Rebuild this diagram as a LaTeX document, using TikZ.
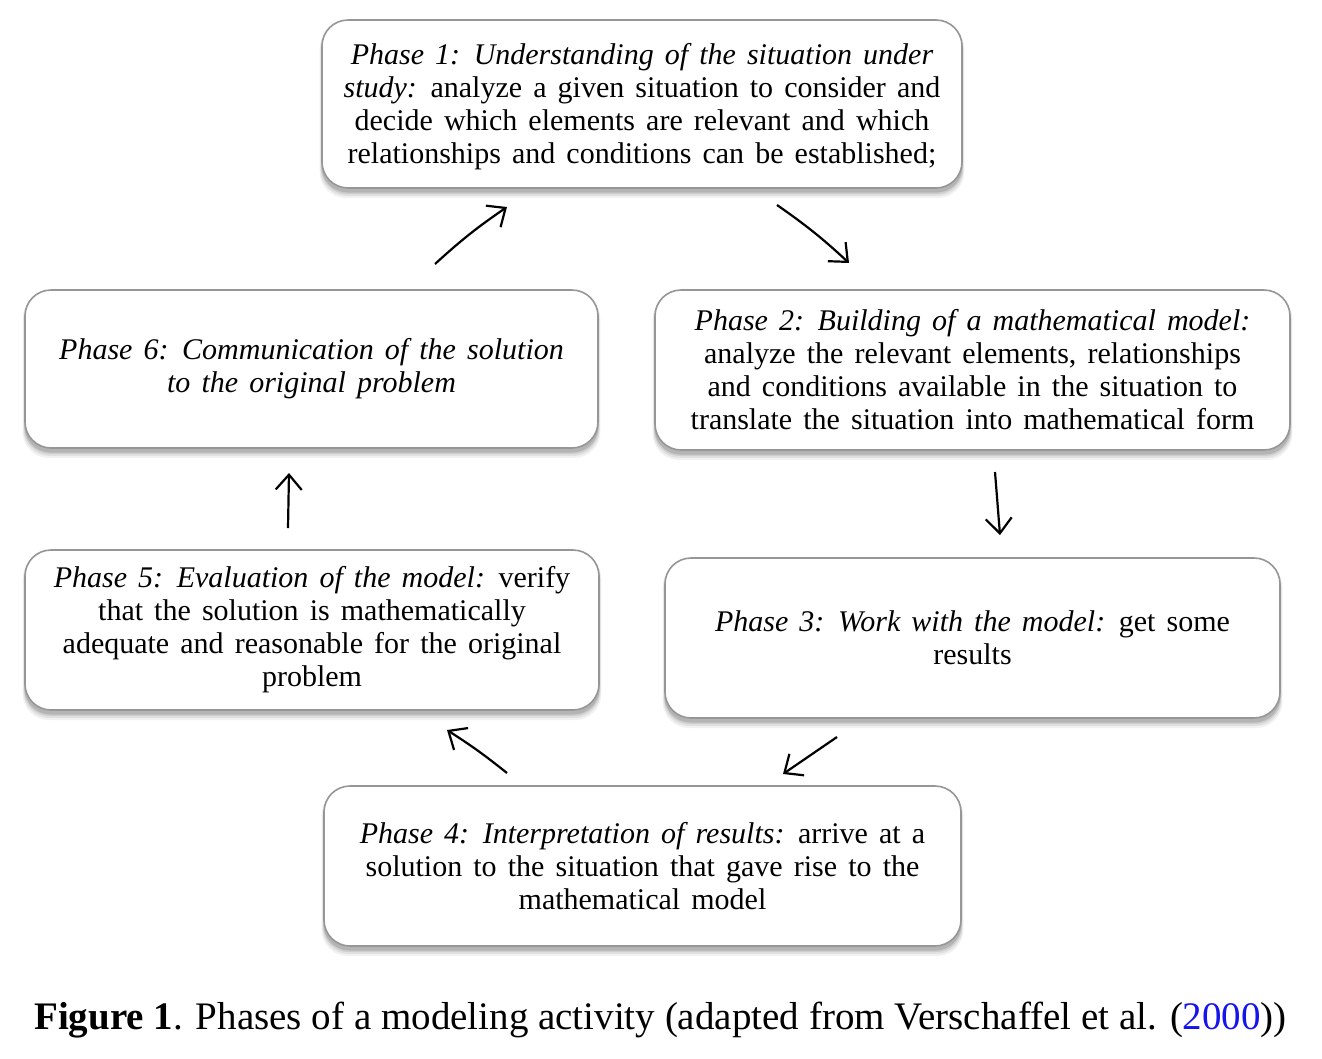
\documentclass[tikz,border=0pt]{standalone}
\usepackage{fontspec}
\setmainfont{Liberation Serif}
\usetikzlibrary{arrows.meta}
\definecolor{boxline}{RGB}{150,150,150}
\definecolor{citeblue}{RGB}{20,20,235}
\newcommand{\phasefont}{\fontsize{30}{33}\selectfont\spaceskip=0.37em plus 0.1em minus 0.05em\relax}
\tikzset{
  phasebox/.style={draw=boxline, line width=1.6pt, rounded corners=26pt, fill=white,
    align=center, inner sep=0pt, font=\phasefont},
  flowarrow/.style={line width=2.2pt, -{Straight Barb[length=15pt,width=26pt,line width=2.2pt]}},
}
\newcommand{\shadowbox}[4]{%
  \foreach \k/\o in {7/0.05,5/0.07,3/0.09,1.5/0.12}{
    \fill[black, opacity=\o, rounded corners=26pt]
      (#1-#3/2-\k/3, #2-#4/2+3) rectangle (#1+#3/2+\k/3, #2+#4/2+3+\k);
  }}
\begin{document}
\begin{tikzpicture}[x=1pt,y=-1pt]
\useasboundingbox (0,0) rectangle (1322,1058);
% shadows
\shadowbox{642}{104}{640}{168}
\shadowbox{972.5}{370}{635}{160}
\shadowbox{972.5}{638}{615}{160}
\shadowbox{642.5}{866}{637}{160}
\shadowbox{312}{630}{574}{160}
\shadowbox{311.5}{369}{573}{158}
% boxes
\node[phasebox, minimum width=640pt, minimum height=168pt] (p1) at (642,104) {};
\node[align=center, inner sep=0pt, font=\phasefont] (p1t) at (642,107)
  {\textit{Phase 1: Understanding of the situation under}\\
   \textit{study:} analyze a given situation to consider and\\
   decide which elements are relevant and which\\
   relationships and conditions can be established;};
\node[phasebox, minimum width=635pt, minimum height=160pt] (p2) at (972.5,370)
  {\textit{Phase 2: Building of a mathematical model:}\\
   analyze the relevant elements, relationships\\
   and conditions available in the situation to\\
   translate the situation into mathematical form};
\node[phasebox, minimum width=615pt, minimum height=160pt] (p3) at (972.5,638)
  {\textit{Phase 3: Work with the model:} get some\\ results};
\node[phasebox, minimum width=637pt, minimum height=160pt] (p4) at (642.5,866)
  {\textit{Phase 4: Interpretation of results:} arrive at a\\
   solution to the situation that gave rise to the\\
   mathematical model};
\node[phasebox, minimum width=574pt, minimum height=160pt] (p5) at (312,630)
  {\textit{Phase 5: Evaluation of the model:} verify\\
   that the solution is mathematically\\
   adequate and reasonable for the original\\
   problem};
\node[phasebox, minimum width=573pt, minimum height=158pt] (p6) at (311.5,369)
  {\textit{Phase 6: Communication of the solution}\\
   \textit{to the original problem}};
% arrow end points
\coordinate (a1s) at (435,264); \coordinate (a1e) at (507,207);
\coordinate (a2s) at (777,205); \coordinate (a2e) at (849,263);
\coordinate (a3s) at (995,472); \coordinate (a3e) at (1000,535);
\coordinate (a4s) at (837,737); \coordinate (a4e) at (783,774);
\coordinate (a5s) at (507,773); \coordinate (a5e) at (447,730);
\coordinate (a6s) at (288,528); \coordinate (a6e) at (289,473);
\draw[flowarrow] (a1s) to[bend left=4] (a1e);
\draw[flowarrow] (a2s) to[bend left=4] (a2e);
\draw[flowarrow] (a3s) -- (a3e);
\draw[flowarrow] (a4s) -- (a4e);
\draw[flowarrow] (a5s) to[bend right=3] (a5e);
\draw[flowarrow] (a6s) -- (a6e);
% caption
\node[anchor=base west, inner sep=0pt, font=\fontsize{39}{44}\selectfont] (cap) at (34,1029)
  {\textbf{Figure 1}. Phases of a modeling activity (adapted from Verschaffel et al. (\textcolor{citeblue}{2000}))};
\end{tikzpicture}
\end{document}
